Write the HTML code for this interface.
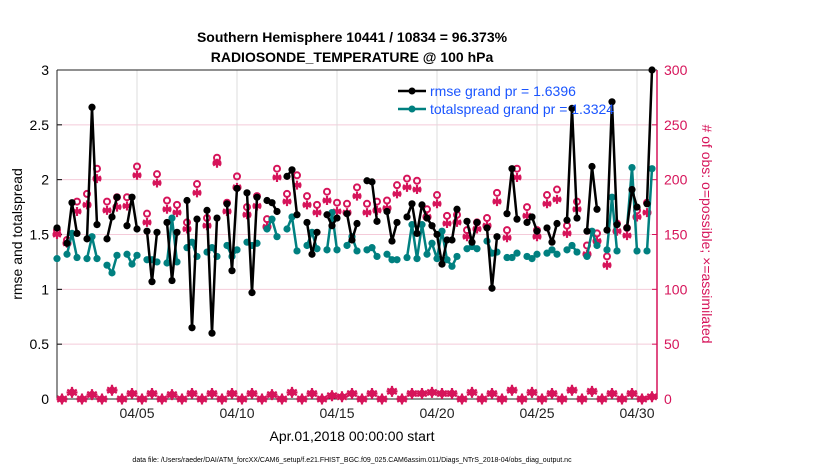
<!DOCTYPE html>
<html><head><meta charset="utf-8"><style>
body{margin:0;background:#fff;font-family:"Liberation Sans",sans-serif}
svg{display:block}
</style></head><body>
<svg id="chart" width="830" height="470" xmlns="http://www.w3.org/2000/svg" font-family="Liberation Sans, sans-serif">
<text x="352" y="42" text-anchor="middle" font-size="14" font-weight="bold">Southern Hemisphere 10441 / 10834 = 96.373%</text>
<text x="352" y="62" text-anchor="middle" font-size="14" font-weight="bold">RADIOSONDE_TEMPERATURE @ 100 hPa</text>
<g id="grid"></g>
<g id="axes"></g>
<g id="marks"></g>
<text transform="translate(22,234) rotate(-90)" text-anchor="middle" font-size="14">rmse and totalspread</text>
<text transform="translate(702,234) rotate(90)" text-anchor="middle" font-size="14" fill="#d6145a"># of obs: o=possible; ×=assimilated</text>
<text x="352" y="441" text-anchor="middle" font-size="14">Apr.01,2018 00:00:00 start</text>
<text x="352" y="462" text-anchor="middle" font-size="7">data file: /Users/raeder/DAI/ATM_forcXX/CAM6_setup/f.e21.FHIST_BGC.f09_025.CAM6assim.011/Diags_NTrS_2018-04/obs_diag_output.nc</text>
<g id="legend">
<line x1="398" y1="91" x2="426" y2="91" stroke="#000" stroke-width="2.5"/>
<circle cx="412" cy="91" r="3.5" fill="#000"/>
<text x="430" y="96" font-size="14" fill="#1a55ff">rmse grand pr = 1.6396</text>
<line x1="398" y1="109" x2="426" y2="109" stroke="#008080" stroke-width="2.5"/>
<circle cx="412" cy="109" r="3.5" fill="#008080"/>
<text x="430" y="114" font-size="14" fill="#1a55ff">totalspread grand pr = 1.3324</text>
</g>
</svg>
<script>
const times=[0,0.5,0.75,1,1.5,1.75,2,2.5,2.75,3,3.5,3.75,4,4.5,4.75,5,5.5,5.75,6,6.5,6.75,7,7.5,7.75,8,8.5,8.75,9,9.5,9.75,10,10.5,10.75,11,11.5,11.75,12,12.5,12.75,13,13.5,13.75,14,14.5,14.75,15,15.5,15.75,16,16.5,16.75,17,17.5,17.75,18,18.25,18.5,18.75,19,19.25,19.5,19.75,20,20.5,20.75,21,21.5,21.75,22,22.5,22.75,23,23.5,23.75,24,24.5,24.75,25,25.5,25.75,26,26.5,26.75,27,27.5,27.75,28,28.5,28.75,29,29.5,29.75];
const rmse=[1.56,1.42,1.79,1.51,1.46,2.66,1.59,1.46,1.66,1.84,1.58,1.84,1.55,1.53,1.07,1.52,1.61,1.08,1.52,1.81,0.65,1.64,1.72,0.60,1.65,1.78,1.17,1.92,1.88,0.97,1.84,1.81,1.79,1.71,2.03,2.09,1.68,1.61,1.32,1.52,1.68,1.58,1.65,1.69,1.45,1.60,1.99,1.98,1.62,1.71,1.44,1.61,1.66,1.78,1.51,1.77,1.65,1.58,1.50,1.23,1.45,1.45,1.73,1.62,1.43,1.61,1.56,1.01,1.48,1.69,2.10,1.64,1.61,1.66,1.53,1.56,1.43,1.60,1.63,2.65,1.65,1.53,2.12,1.73,1.54,2.71,1.59,1.56,1.91,1.75,1.78,3.0];
const spread=[1.28,1.32,1.51,1.29,1.28,1.48,1.28,1.22,1.15,1.31,1.32,1.23,1.31,1.27,1.27,1.25,1.24,1.65,1.25,1.38,1.43,1.30,1.34,1.38,1.30,1.40,1.30,1.36,1.43,1.40,1.42,1.55,1.64,1.48,1.55,1.66,1.35,1.40,1.52,1.37,1.36,1.70,1.36,1.40,1.48,1.35,1.36,1.38,1.30,1.32,1.27,1.27,1.29,1.59,1.28,1.59,1.32,1.42,1.28,1.53,1.27,1.21,1.30,1.37,1.39,1.37,1.44,1.33,1.34,1.29,1.29,1.33,1.30,1.28,1.32,1.33,1.36,1.32,1.36,1.40,1.34,1.30,1.53,1.40,1.36,1.84,1.35,1.56,2.11,1.35,1.35,2.10];
const obsTimes=[0,0.5,1,1.5,2,2.5,3,3.5,4,4.5,5,5.5,6,6.5,7,7.5,8,8.5,9,9.5,10,10.5,11,11.5,12,12.5,13,13.5,14,14.5,15,15.5,16,16.5,17,17.5,18,18.5,19,19.5,20,20.5,21,21.5,22,22.5,23,23.5,24,24.5,25,25.5,26,26.5,27,27.5,28,28.5,29,29.5];
const possible=[154,145,180,187,210,180,184,184,212,169,205,181,177,161,196,165,220,179,203,175,185,164,210,187,204,185,177,189,179,178,193,178,180,181,195,201,199,173,186,167,168,154,161,165,188,154,210,175,154,186,191,158,180,140,151,130,160,156,172,179];
const assimilated=[150,142,171,177,201,172,175,176,204,161,197,173,170,155,188,158,215,171,193,168,176,157,202,180,195,177,170,181,171,170,185,170,172,174,187,193,191,166,178,160,161,148,155,158,180,147,202,167,148,178,182,151,173,132,144,122,153,149,166,170];
const offTimes=[0.25,0.75,1.25,1.75,2.25,2.75,3.25,3.75,4.25,4.75,5.25,5.75,6.25,6.75,7.25,7.75,8.25,8.75,9.25,9.75,10.25,10.75,11.25,11.75,12.25,12.75,13.25,13.75,14.25,14.75,15.25,15.75,16.25,16.75,17.25,17.75,18.25,18.75,19.25,19.75,20.25,20.75,21.25,21.75,22.25,22.75,23.25,23.75,24.25,24.75,25.25,25.75,26.25,26.75,27.25,27.75,28.25,28.75,29.25,29.75];
const offCounts=[0,6,0,4,0,8,0,5,0,5,0,4,0,5,0,5,0,5,0,5,0,4,0,6,0,5,0,3,2,5,0,5,0,7,0,5,5,6,5,5,0,6,0,5,0,8,0,6,0,5,0,8,0,7,0,5,0,5,0,2];
const xTicks=[4,9,14,19,24,29];
const xTickLabels=["04/05","04/10","04/15","04/20","04/25","04/30"];
const yTicks=[0,0.5,1,1.5,2,2.5,3];
const yTickLabels=["0","0.5","1","1.5","2","2.5","3"];
const y2Ticks=[0,50,100,150,200,250,300];

const NS="http://www.w3.org/2000/svg";
const L=57,R=657,T=70,B=399,CRIM="#d6145a";
const xs=d=>L+(R-L)*d/30;
const ys=v=>B-(B-T)*v/3;
const y2s=v=>B-(B-T)*v/300;
function mk(tag,attrs,parent){const e=document.createElementNS(NS,tag);for(const k in attrs)e.setAttribute(k,attrs[k]);parent.appendChild(e);return e;}
const grid=document.getElementById('grid'),axes=document.getElementById('axes'),marks=document.getElementById('marks');
yTicks.forEach((v,i)=>{
  if(v>0&&v<3){const g=mk('line',{x1:L,x2:R,y1:ys(v),y2:ys(v),stroke:'#f4cbd9','stroke-width':1},grid);
  
  }
  const t=mk('text',{x:L-8,y:ys(v)+5,'text-anchor':'end','font-size':14},axes);t.textContent=yTickLabels[i];
  
  
  mk('line',{x1:L,x2:L+5,y1:ys(v),y2:ys(v),stroke:'#000'},axes);
});
y2Ticks.forEach(v=>{
  const t=mk('text',{x:R+7,y:y2s(v)+5,'font-size':14,fill:CRIM},axes);t.textContent=String(v);
  
  
  mk('line',{x1:R-5,x2:R,y1:y2s(v),y2:y2s(v),stroke:CRIM},axes);
});
xTicks.forEach((d,i)=>{
  const g=mk('line',{x1:xs(d),x2:xs(d),y1:T,y2:B,stroke:'#dcdcdc','stroke-width':1},grid);
  
  
  const t=mk('text',{x:xs(d),y:B+19,'text-anchor':'middle','font-size':14,fill:'#222'},axes);t.textContent=xTickLabels[i];
  
  
});
mk('line',{x1:L,x2:R,y1:T,y2:T,stroke:'#222'},axes);
mk('line',{x1:L,x2:R,y1:B,y2:B,stroke:'#222'},axes);
mk('line',{x1:L,x2:L,y1:T,y2:B,stroke:'#222'},axes);
mk('line',{x1:R,x2:R,y1:T,y2:B,stroke:CRIM,'stroke-width':1.5},axes);

function series(vals,color,name){
  let d='';
  for(let i=0;i<times.length;i++){
    const gap=i===0||times[i]-times[i-1]>0.3;
    d+=(gap?'M':'L')+xs(times[i]).toFixed(1)+','+ys(vals[i]).toFixed(1);
  }
  const p=mk('path',{d:d,fill:'none',stroke:color,'stroke-width':2.5,'stroke-linejoin':'round'},marks);
  
  
  vals.forEach((v,i)=>{
    const c=mk('circle',{cx:xs(times[i]),cy:ys(v),r:3.6,fill:color},marks);
    
    
  });
}
function asterisk(cx,cy,s,g){
  let d='';
  for(let a=0;a<3;a++){const ang=Math.PI/2+a*Math.PI/3;const dx=s*Math.cos(ang),dy=s*Math.sin(ang);d+=`M${cx-dx},${cy-dy}L${cx+dx},${cy+dy}`;}
  d+=`M${cx-s},${cy}L${cx+s},${cy}`;
  return mk('path',{d:d,stroke:CRIM,'stroke-width':2.2,fill:'none'},g);
}
// obs possible / assimilated
possible.forEach((v,i)=>{
  const c=mk('circle',{cx:xs(obsTimes[i]),cy:y2s(v),r:3,fill:'none',stroke:CRIM,'stroke-width':2},marks);
  
  
});
assimilated.forEach((v,i)=>{
  const a=asterisk(xs(obsTimes[i]),y2s(v),4.5,marks);
  
  
});
offCounts.forEach((v,i)=>{
  const cx=xs(offTimes[i]),cy=y2s(v);
  const p=mk('path',{d:`M${cx},${cy-5}L${cx+5},${cy}L${cx},${cy+5}L${cx-5},${cy}Z`,fill:CRIM},marks);
  
  
  asterisk(cx,cy,5.5,marks);
});
series(spread,'#008080','totalspread');
series(rmse,'#000000','rmse');
</script>
</body></html>
